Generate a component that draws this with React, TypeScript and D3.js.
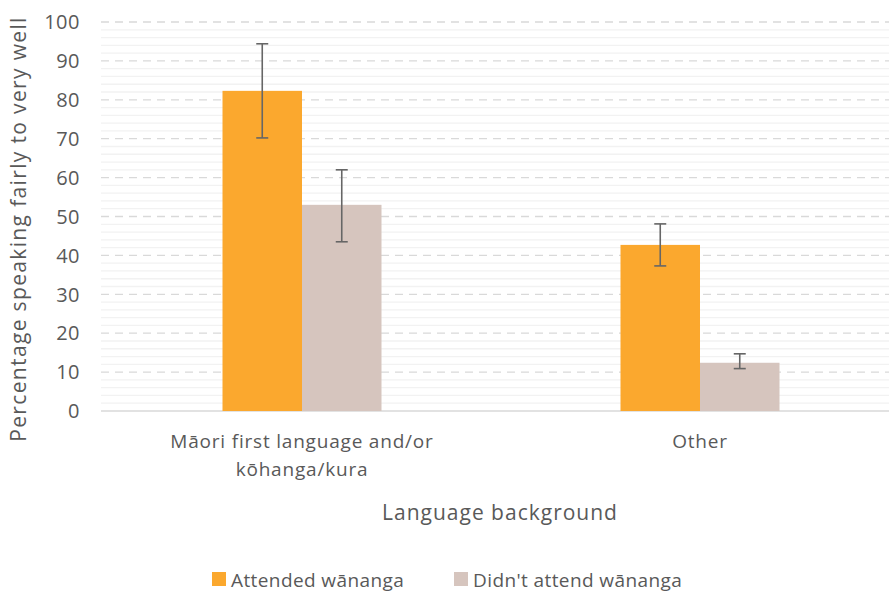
import React from "react";
import * as d3 from "d3";

const categories = ["Māori first language and/or\nkōhanga/kura", "Other"];
const seriesNames = ["Attended wānanga", "Didn't attend wānanga"];
const attended = [82.3, 42.7];
const attendedLow = [70.2, 37.3];
const attendedHigh = [94.4, 48.1];
const notAttended = [53.0, 12.4];
const notAttendedLow = [43.5, 10.9];
const notAttendedHigh = [62.0, 14.7];
const yTicks = [0, 10, 20, 30, 40, 50, 60, 70, 80, 90, 100];
const colors = ["#FBA82E", "#D6C5BE"];

const W = 889, H = 592;
const FONT = "'Open Sans', sans-serif";
const TXT = "#595959";

export default function App() {
  const left = 103, right = 899, top = 22, bottom = 411;
  const x = d3.scaleBand<string>().domain(categories).range([left, right]);
  const y = d3.scaleLinear().domain([0, 100]).range([bottom, top]);
  const barW = 79.5;
  const minor = d3.range(0, 101, 2).filter((v) => v % 10 !== 0);
  const series = [
    { vals: attended, lo: attendedLow, hi: attendedHigh },
    { vals: notAttended, lo: notAttendedLow, hi: notAttendedHigh },
  ];
  return (
    <svg width={W} height={H} style={{ position: "absolute", left: 0, top: 0, background: "#fff" }} fontFamily={FONT}>
      {minor.map((v) => (
        <line key={"m" + v} x1={101} x2={right} y1={y(v)} y2={y(v)} stroke="#F2F2F2" strokeWidth={1.3} />
      ))}
      {yTicks.filter((v) => v > 0).map((v) => (
        <line key={"g" + v} x1={101} x2={right} y1={y(v)} y2={y(v)} stroke="#D9D9D9" strokeWidth={1.3} strokeDasharray="8,6" />
      ))}
      <line x1={101} x2={right} y1={y(0)} y2={y(0)} stroke="#D9D9D9" strokeWidth={1.5} />
      {yTicks.map((v) => (
        <text key={"t" + v} x={80} y={y(v)} dy="0.36em" textAnchor="end" fontSize={20} fill={TXT} letterSpacing={0.5}>{v}</text>
      ))}
      {categories.map((c, i) => {
        const cx = (x(c) as number) + x.bandwidth() / 2;
        return (
          <g key={c}>
            {series.map((s, j) => {
              const bx = cx + (j - 1) * barW;
              const mx = bx + barW / 2;
              return (
                <g key={j}>
                  <rect x={bx} y={y(s.vals[i])} width={barW} height={y(0) - y(s.vals[i])} fill={colors[j]} />
                  <line x1={mx} x2={mx} y1={y(s.hi[i])} y2={y(s.lo[i])} stroke="#666" strokeWidth={1.6} />
                  <line x1={mx - 6} x2={mx + 6} y1={y(s.hi[i])} y2={y(s.hi[i])} stroke="#666" strokeWidth={1.6} />
                  <line x1={mx - 6} x2={mx + 6} y1={y(s.lo[i])} y2={y(s.lo[i])} stroke="#666" strokeWidth={1.6} />
                </g>
              );
            })}
            {c.split("\n").map((line, k) => (
              <text key={k} x={cx} y={448 + k * 28} textAnchor="middle" fontSize={19} fill={TXT} letterSpacing={0.8}>{line}</text>
            ))}
          </g>
        );
      })}
      <text x={500} y={520} textAnchor="middle" fontSize={21} fill={TXT} letterSpacing={1}>Language background</text>
      <text transform={`translate(26,229) rotate(-90)`} textAnchor="middle" fontSize={21} fill={TXT} letterSpacing={1.35}>Percentage speaking fairly to very well</text>
      {seriesNames.map((n, j) => {
        const lx = j === 0 ? 212 : 454;
        return (
          <g key={n}>
            <rect x={lx} y={572} width={14} height={14} fill={colors[j]} />
            <text x={lx + 19} y={587} fontSize={19} fill={TXT} letterSpacing={0.4}>{n}</text>
          </g>
        );
      })}
    </svg>
  );
}
